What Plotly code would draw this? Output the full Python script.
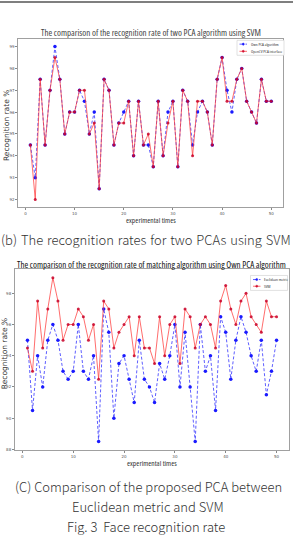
import plotly.graph_objects as go

# ---------------- data ----------------
times = list(range(1, 51))

own_pca_svm = [94.5, 93, 97.5, 94.5, 97, 99, 97.5, 95, 96, 96,
               97, 96.5, 95, 96, 92.5, 97.5, 97, 94.5, 95.5, 96,
               96.5, 94, 96.5, 94.5, 94.5, 93.5, 96.5, 94, 96, 96.5,
               93.5, 97, 96.5, 94.5, 96, 96.5, 96, 94.5, 97.5, 98.5,
               97, 96, 97.5, 98, 96.5, 96, 95.5, 97.5, 96.5, 96.5]

opencv_pca_svm = [94.5, 92, 97.5, 94.5, 97, 98.5, 97.5, 95, 96, 96,
                  97, 97, 95, 95.5, 92.5, 97.5, 97, 94.5, 95.5, 95.5,
                  96.5, 94, 96.5, 94.5, 95, 93.5, 96.5, 94, 95.5, 96.5,
                  93.5, 97, 96.5, 94, 96.5, 96.5, 96, 94.5, 97.5, 98.5,
                  96.5, 96.5, 97.5, 98, 96.5, 96, 95.5, 97.5, 96.5, 96.5]

euclidean_own = [95, 90.5, 94, 92, 95, 96, 95, 93, 92.5, 93,
                 96, 93, 92.5, 94, 88.5, 97, 95.5, 90, 93.5, 94,
                 92.5, 91, 95, 92.5, 92, 91, 93.5, 92.5, 94, 96,
                 92, 95.5, 92, 88.5, 96, 93, 94, 90.5, 96.5, 95.5,
                 92.5, 95, 96.5, 95.5, 94, 93, 95, 91.5, 93, 95]
svm_own = own_pca_svm

x_ticks = [0, 10, 20, 30, 40, 50]
y_ticks_top = [92, 93, 94, 95, 96, 97, 98, 99]
y_ticks_bot = [88, 90, 92, 94, 96, 98]

W, H = 293, 538
def px(x): return x / W
def py(y): return 1 - y / H

NARROW = "Open Sans"
def narrow(t, weight=400):
    return ('<span style="font-stretch:75%;font-weight:' + str(weight) + '">'
            + t + '</span>')

BLUE_LINE = "rgba(40,40,255,0.75)"
RED_LINE = "rgba(255,60,60,0.75)"
BLUE_MK = "#1a1aff"
RED_MK = "rgba(200,0,40,0.85)"

fig = go.Figure()

fig.add_trace(go.Scatter(
    x=times, y=own_pca_svm, name="Own PCA algorithm", mode="lines+markers",
    line=dict(color=BLUE_LINE, width=1, dash="3px,2px"),
    marker=dict(color=BLUE_MK, size=3.5, symbol="circle"),
    xaxis="x", yaxis="y", showlegend=False))
fig.add_trace(go.Scatter(
    x=times, y=opencv_pca_svm, name="OpenCV PCA interface", mode="lines+markers",
    line=dict(color=RED_LINE, width=1),
    marker=dict(color=RED_MK, size=3, symbol="circle"),
    xaxis="x", yaxis="y", showlegend=False))

fig.add_trace(go.Scatter(
    x=times, y=euclidean_own, name="Euclidean metric", mode="lines+markers",
    line=dict(color=BLUE_LINE, width=1, dash="3px,2px"),
    marker=dict(color=BLUE_MK, size=3.5, symbol="circle"),
    xaxis="x2", yaxis="y2", showlegend=False))
fig.add_trace(go.Scatter(
    x=times, y=svm_own, name="SVM", mode="lines+markers",
    line=dict(color=RED_LINE, width=1),
    marker=dict(color=RED_MK, size=3, symbol="circle"),
    xaxis="x2", yaxis="y2", showlegend=False))

axis_common = dict(showgrid=False, zeroline=False, showline=True, mirror=True,
                   linecolor="#a0a0a0", linewidth=1, ticks="outside", ticklen=2,
                   tickcolor="#888", tickfont=dict(size=4, color="#555", family="DejaVu Sans"))

fig.update_layout(
    width=W, height=H, margin=dict(l=0, r=0, t=0, b=0),
    paper_bgcolor="white", plot_bgcolor="white", showlegend=False,
    xaxis=dict(domain=[px(18.3), px(283.3)], range=[-1.45, 52.45], anchor="y",
               tickvals=x_ticks, **axis_common),
    yaxis=dict(domain=[py(208), py(39)], range=[91.65, 99.35], anchor="x",
               tickvals=y_ticks_top, **axis_common),
    xaxis2=dict(domain=[px(15), px(289)], range=[-1.45, 52.45], anchor="y2",
                tickvals=x_ticks, **axis_common),
    yaxis2=dict(domain=[py(451.5), py(270.5)], range=[87.975, 99.525], anchor="x2",
                tickvals=y_ticks_bot, **axis_common),
)

ann = []
def add(text, x, y, size, family, color="#222", angle=0, xanchor="center", weight=None):
    f = dict(size=size, family=family, color=color)
    if weight:
        f["weight"] = weight
    ann.append(dict(text=text, x=x, y=y, xref="paper", yref="paper", showarrow=False,
                    font=f, textangle=angle, xanchor=xanchor, yanchor="middle"))

shapes = []
def legend_box(x0, y0, x1, y1, entries):
    shapes.append(dict(type="rect", xref="paper", yref="paper", x0=px(x0), x1=px(x1),
                       y0=py(y1), y1=py(y0), line=dict(color="#cccccc", width=0.6),
                       fillcolor="white", layer="above"))
    for (label, yy, lc, mc, dash) in entries:
        shapes.append(dict(type="line", xref="paper", yref="paper", x0=px(x0 + 2.5),
                           x1=px(x0 + 10), y0=py(yy), y1=py(yy),
                           line=dict(color=lc, width=1, dash=dash), layer="above"))
        shapes.append(dict(type="circle", xref="paper", yref="paper",
                           x0=px(x0 + 5.2), x1=px(x0 + 7.3), y0=py(yy + 1.05), y1=py(yy - 1.05),
                           line=dict(color=mc, width=0.5), fillcolor=mc, layer="above"))
        add(narrow(label), px(x0 + 11.5), py(yy), 4.2, NARROW, "#333", xanchor="left")

legend_box(237, 40.5, 284, 55.5, [
    ("Own PCA algorithm", 44.3, BLUE_LINE, BLUE_MK, "dot"),
    ("OpenCV PCA interface", 51.5, RED_LINE, RED_MK, "solid")])
legend_box(250.5, 276.5, 287.5, 291.5, [
    ("Euclidean metric", 280.6, BLUE_LINE, BLUE_MK, "dot"),
    ("SVM", 287.3, RED_LINE, RED_MK, "solid")])

add(narrow("The comparison of the recognition rate of two PCA algorithm using SVM", 400),
    px(151), py(33), 9, NARROW, "#444")
add(narrow("experimental times"), px(151), py(221), 7.5, NARROW, "#333")
add("Recognition rate %", px(6.5), py(126), 7.5, "DejaVu Sans", "#333", -90)
add('<span style="word-spacing:1px">(b) The recognition rates for two PCAs using SVM</span>',
    px(146), py(240), 13, "Noto Sans CJK KR", "#333", weight=300)
add(narrow("The comparison of the recognition rate of matching algorithm using Own PCA algorithm", 500),
    px(152), py(265), 9, NARROW, "#111")
add(narrow("experimental times"), px(152), py(465), 7.5, NARROW, "#333")
add("Recognition rate %", px(4.5), py(355), 7.5, "DejaVu Sans", "#333", -90)
add("(C) Comparison of the proposed PCA between",
    px(148), py(488), 13, "Noto Sans CJK KR", "#333", weight=300)
add("Euclidean metric and SVM",
    px(148), py(508), 13, "Noto Sans CJK KR", "#333", weight=300)
add("Fig. 3  Face recognition rate",
    px(146), py(528), 13, "Noto Sans CJK KR", "#333", weight=300)

shapes.append(dict(type="line", xref="paper", yref="paper", x0=0, x1=1, y0=py(2), y1=py(2),
                   line=dict(color="#555", width=1.5)))
fig.update_layout(annotations=ann, shapes=shapes)

fig.write_html("out.html")
